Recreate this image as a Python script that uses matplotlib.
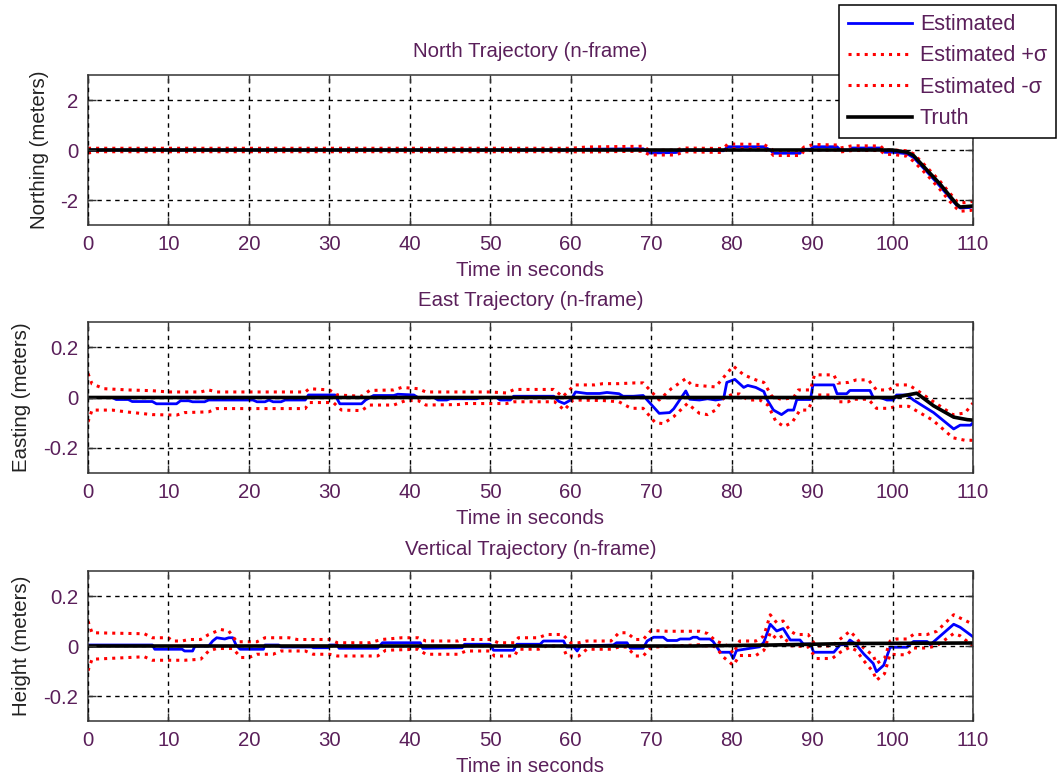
import numpy as np
import matplotlib
matplotlib.use("Agg")
import matplotlib.pyplot as plt

plt.rcParams['font.family'] = ['Liberation Sans', 'DejaVu Sans']

# ---------------- data (time [s], value) ----------------
north_est = [(0, 0), (60, 0), (62, 0.03), (69, 0.05), (69.8, -0.12), (73.1, -0.1), (74, 0), (79, -0.03),
             (79.5, 0.13), (84, 0.13), (84.8, 0), (85.2, -0.13), (88.5, -0.13), (88.9, 0.03), (89.8, 0.03),
             (90.2, 0.13), (93.1, 0.13), (93.5, 0), (94.7, 0), (95, 0.08), (98.5, 0.08), (99, -0.09),
             (100.1, -0.09), (101.8, -0.15), (102.6, -0.3), (104.3, -0.88), (105.9, -1.45), (107.1, -1.9),
             (108, -2.22), (108.4, -2.32), (109.6, -2.3), (110, -2.25)]
north_upper = [(0, 0.07), (60, 0.07), (62, 0.12), (69, 0.15), (69.8, -0.02), (73.1, 0.0), (74, 0.08), (79, 0.06),
               (79.5, 0.24), (84, 0.22), (84.8, 0.08), (85.2, -0.03), (88.5, -0.03), (89, 0.12), (90.2, 0.22),
               (93.1, 0.2), (93.5, 0.08), (95, 0.17), (98.5, 0.16), (99, 0.0), (100.1, 0.0), (101.8, -0.03),
               (102.6, -0.15), (104.3, -0.7), (105.9, -1.25), (107.1, -1.72), (108, -2.05), (108.4, -2.12),
               (109.6, -2.08), (110, -2.05)]
north_lower = [(0, -0.12), (1, -0.07), (60, -0.07), (62, -0.08), (69, -0.05), (69.8, -0.2), (73.1, -0.2),
               (74, -0.07), (79, -0.1), (79.5, 0.05), (84, 0.05), (84.8, -0.08), (85.2, -0.22), (88.5, -0.22),
               (89, -0.05), (90.2, 0.0), (93.1, 0.0), (93.5, -0.08), (95, -0.02), (98.5, -0.02), (99, -0.17),
               (100.1, -0.18), (101.8, -0.25), (102.6, -0.45), (104.3, -1.0), (105.9, -1.58), (107.1, -2.05),
               (108, -2.35), (108.4, -2.45), (109.6, -2.42), (110, -2.4)]
north_truth = [(0, 0), (100, 0), (101.8, -0.09), (102.6, -0.22), (104.3, -0.81), (105.9, -1.36),
               (107.1, -1.83), (108, -2.18), (108.4, -2.28), (109.6, -2.25), (110, -2.24)]

east_est = [(0, 0), (3, 0), (3.5, -0.008), (5, -0.008), (5.5, -0.016), (8, -0.016), (8.5, -0.025), (11, -0.025),
            (11.5, -0.013), (12.5, -0.013), (13, -0.017), (14.5, -0.017), (15, -0.01), (20.5, -0.01),
            (21, -0.017), (22, -0.017), (22.5, -0.01), (23, -0.017), (24, -0.017), (24.5, -0.01), (27, -0.01),
            (27.4, 0.01), (30.7, 0.01), (31.3, -0.025), (34, -0.025), (34.5, -0.01), (35.5, 0.008), (38, 0.008),
            (38.5, 0.013), (40.5, 0.01), (41, 0), (43, 0), (43.5, -0.01), (44.6, -0.01), (45, -0.005),
            (48.3, -0.005), (48.8, 0), (50.8, 0), (51.2, -0.01), (52.5, -0.01), (52.9, 0.005), (57.9, 0.005),
            (58.5, -0.015), (59.2, -0.024), (60, -0.01), (60.6, 0.022), (62, 0.016), (63.6, 0.016),
            (64.5, 0.02), (66, 0.015), (66.5, 0.005), (67.8, 0.005), (69, 0.008), (71, -0.063), (72.3, -0.06),
            (72.8, -0.045), (74.3, 0.026), (74.8, -0.007), (76, -0.01), (77, -0.005), (78, -0.01), (79, -0.005),
            (79.4, 0.06), (80.4, 0.072), (81.5, 0.04), (82, 0.048), (83, 0.04), (84, 0.024), (84.4, -0.008),
            (85.2, -0.05), (86.2, -0.068), (87, -0.05), (87.7, -0.05), (88.1, -0.008), (89.8, -0.008),
            (90.1, 0.05), (92.7, 0.05), (93.1, 0.015), (94.3, 0.015), (94.7, 0.028), (97.2, 0.028), (97.6, 0.0),
            (98.5, 0.0), (99.3, -0.01), (100.1, -0.01), (100.5, 0.01), (101.8, 0.01), (102.6, -0.01),
            (105.1, -0.06), (107.6, -0.125), (108.4, -0.11), (109.7, -0.11), (110, -0.1)]
east_upper = [(0, 0.095), (0.5, 0.054), (2, 0.035), (5, 0.03), (8, 0.027), (10, 0.022), (14, 0.022), (15, 0.03),
              (16, 0.022), (27, 0.022), (27.5, 0.035), (30, 0.03), (31, 0.01), (34, 0.005), (35, 0.028),
              (38, 0.03), (39, 0.04), (41, 0.035), (42, 0.022), (50, 0.022), (52, 0.018), (53, 0.032),
              (57.9, 0.032), (59, 0.003), (60.5, 0.05), (63, 0.05), (64, 0.055), (66, 0.055), (68, 0.058),
              (69, 0.058), (71, -0.01), (72.5, 0.035), (74.3, 0.075), (75, 0.05), (78, 0.042), (79, 0.08),
              (80.2, 0.125), (81.5, 0.09), (83, 0.07), (84, 0.06), (85, 0.005), (86.2, -0.008), (87.7, 0.0),
              (88.3, 0.03), (89.8, 0.03), (90.3, 0.09), (92.7, 0.09), (93.2, 0.057), (94.5, 0.06), (95.5, 0.07),
              (97, 0.07), (98, 0.03), (99.5, 0.03), (100.5, 0.05), (102, 0.05), (103, 0.03), (105, -0.015),
              (107.5, -0.068), (109, -0.062), (110, -0.022)]
east_lower = [(0, -0.097), (0.5, -0.05), (3, -0.05), (5, -0.058), (8, -0.068), (11, -0.07), (12, -0.06),
              (15, -0.057), (16, -0.044), (27, -0.044), (27.5, -0.02), (30.5, -0.02), (31.5, -0.05),
              (34, -0.052), (35, -0.03), (38, -0.03), (39.5, -0.012), (41, -0.012), (42, -0.03), (46, -0.028),
              (47, -0.024), (52, -0.024), (53, -0.017), (58, -0.017), (59.2, -0.05), (60.3, -0.01),
              (64, -0.012), (66, -0.017), (67.5, -0.043), (69, -0.043), (70.5, -0.1), (71.5, -0.104),
              (72.8, -0.076), (74.5, -0.024), (76, -0.063), (77, -0.068), (78, -0.05), (79, -0.002),
              (80.2, 0.014), (81, 0.014), (82, -0.01), (83.5, -0.01), (84.5, -0.03), (85.5, -0.095),
              (86.5, -0.115), (87.5, -0.1), (88.5, -0.05), (89.5, -0.05), (90.2, 0.0), (90.5, 0.01),
              (92.5, 0.01), (93.2, -0.017), (94.5, -0.017), (95, -0.007), (97, -0.007), (98, -0.043),
              (99.5, -0.043), (100.5, -0.035), (102, -0.035), (105, -0.09), (107.5, -0.16), (109, -0.17),
              (110, -0.17)]
east_truth = [(0, 0), (100, 0), (101, 0.005), (103, 0.017), (105.1, -0.033), (107.6, -0.078),
              (109.3, -0.088), (110, -0.09)]

vert_est = [(0, 0.004), (8, 0.004), (8.3, -0.013), (11.7, -0.013), (12, -0.02), (13, -0.02), (13.3, 0), (15, 0),
            (15.5, 0.02), (16, 0.033), (17, 0.028), (17.5, 0.033), (18, 0.033), (18.4, 0.004), (18.9, -0.013),
            (21.8, -0.013), (22, 0.004), (23.7, 0.004), (24, -0.004), (27.8, -0.004), (28, -0.007),
            (29.9, -0.007), (30, 0.004), (31, 0.004), (31.2, -0.009), (36, -0.009), (36.6, 0.013),
            (41.3, 0.013), (41.6, -0.009), (46.5, -0.007), (46.8, 0.007), (50, 0.007), (50.4, -0.017),
            (52.9, -0.017), (53.3, 0.007), (56.2, 0.007), (56.6, 0.02), (59.1, 0.02), (59.5, -0.004),
            (60.4, -0.004), (60.8, -0.02), (61.2, 0.0), (65.3, 0.004), (65.7, 0.013), (67, 0.013),
            (67.4, -0.009), (69, -0.009), (69.5, 0.02), (70.3, 0.035), (71.5, 0.035), (72, 0.022),
            (73.2, 0.022), (73.6, 0.028), (74.8, 0.028), (75.2, 0.035), (75.7, 0.035), (76, 0.028),
            (77.3, 0.028), (77.7, 0.018), (78.6, -0.025), (79.8, -0.025), (80.2, -0.05), (80.6, -0.018),
            (83.5, -0.003), (84, 0.015), (84.8, 0.087), (85.6, 0.06), (86.4, 0.07), (87.3, 0.024),
            (88.5, 0.024), (88.9, 0.008), (89.8, 0.008), (90.2, -0.025), (92.7, -0.025), (93.5, 0.005),
            (94.3, 0.005), (94.7, 0.024), (95.5, 0.005), (96.4, -0.031), (97.6, -0.07), (98, -0.103),
            (98.9, -0.077), (99.7, -0.005), (101.8, -0.005), (102.6, 0.018), (104.3, 0.018), (104.7, 0.005),
            (105.5, 0.028), (107.6, 0.087), (108.4, 0.075), (110, 0.037)]
vert_upper = [(0, 0.099), (0.5, 0.053), (7, 0.049), (8, 0.033), (10, 0.033), (10.5, 0.02), (11.7, 0.02),
              (12.5, 0.026), (14, 0.026), (15, 0.046), (16.5, 0.066), (17.5, 0.06), (18.5, 0.017), (21, 0.017),
              (22, 0.033), (25, 0.033), (26, 0.026), (30, 0.026), (31, 0.013), (35, 0.013), (36.5, 0.026),
              (39, 0.033), (41, 0.033), (42, 0.02), (46, 0.02), (46.5, 0.026), (50, 0.026), (51, 0.013),
              (53, 0.013), (53.5, 0.033), (56, 0.033), (57, 0.046), (59, 0.046), (60, 0.013), (61, 0.013),
              (62, 0.02), (65, 0.02), (66, 0.053), (67, 0.053), (68, 0.026), (69, 0.026), (70, 0.062),
              (72, 0.059), (76, 0.059), (77, 0.05), (78, 0.021), (79.5, 0.001), (80.2, -0.03), (81, 0.02),
              (83, 0.02), (84, 0.04), (84.8, 0.125), (85.6, 0.093), (86.4, 0.1), (87.3, 0.06), (88, 0.046),
              (89.5, 0.046), (90.5, 0.0), (92.5, 0.0), (93.5, 0.028), (94.7, 0.059), (95.5, 0.033),
              (96.4, -0.008), (97.6, -0.038), (98, -0.07), (99, -0.05), (99.7, 0.02), (100.5, 0.028),
              (101.8, 0.028), (102.6, 0.046), (104.3, 0.046), (105.5, 0.059), (107.6, 0.125), (108.4, 0.112),
              (110, 0.087)]
vert_lower = [(0, -0.099), (0.5, -0.053), (7, -0.043), (8, -0.057), (12, -0.057), (14, -0.053), (15, -0.02),
              (16, -0.01), (18, -0.01), (19, -0.046), (20, -0.046), (21, -0.033), (23, -0.033), (24, -0.02),
              (27, -0.02), (28, -0.033), (30, -0.033), (31, -0.04), (36, -0.04), (37, -0.017), (41, -0.013),
              (42, -0.033), (46, -0.033), (47, -0.02), (50, -0.02), (50.5, -0.04), (53, -0.04), (53.5, -0.013),
              (56, -0.013), (57, 0.0), (59, 0.0), (59.5, -0.04), (61, -0.04), (62, -0.013), (65, -0.013),
              (66, -0.004), (67, -0.004), (68, -0.04), (69, -0.04), (70, -0.005), (76, 0.005), (77, 0.0),
              (78, -0.003), (79, -0.045), (80.2, -0.077), (81, -0.038), (83, -0.038), (84, -0.018),
              (84.8, 0.053), (85.6, 0.028), (86.4, 0.041), (87.3, 0.001), (89.5, -0.003), (90.5, -0.05),
              (92.5, -0.05), (93.5, -0.025), (94.7, -0.005), (95.5, -0.018), (96.4, -0.058), (97.6, -0.104),
              (98, -0.137), (99, -0.111), (99.7, -0.032), (100.5, -0.035), (101.8, -0.035), (102.6, -0.008),
              (104.3, -0.008), (105.5, 0.001), (107.6, 0.05), (108.4, 0.041), (110, 0.0)]
vert_truth = [(0, 0), (75, 0), (85, 0.004), (95, 0.01), (110, 0.012)]

titles = ["North Trajectory (n-frame)", "East Trajectory (n-frame)", "Vertical Trajectory (n-frame)"]
ylabels = ["Northing (meters)", "Easting (meters)", "Height (meters)"]
xlabel = "Time in seconds"
legend_labels = ["Estimated", "Estimated +\u03c3", "Estimated -\u03c3", "Truth"]
x_ticks = [0, 10, 20, 30, 40, 50, 60, 70, 80, 90, 100, 110]
y_ticks = [[-2, 0, 2], [-0.2, 0, 0.2], [-0.2, 0, 0.2]]
y_lims = [(-3, 3), (-0.3, 0.3), (-0.3, 0.3)]

# ---------------- figure ----------------
W, H = 1059, 780
fig = plt.figure(figsize=(W / 100, H / 100), dpi=100)
txt = '#5a1f5a'
ylab_col = '#222222'
FS = 14.7

# axes boxes in pixels: (left, top, right, bottom)
boxes = [(88, 75, 973, 225), (88, 322, 973, 473), (88, 571, 973, 721)]
ylabel_x = [40, 22, 22]
title_pad = [13, 11.5, 11.5]

series = [(north_est, north_upper, north_lower, north_truth),
          (east_est, east_upper, east_lower, east_truth),
          (vert_est, vert_upper, vert_lower, vert_truth)]

handles = None
for i, (l, t, r, b) in enumerate(boxes):
    ax = fig.add_axes([l / W, 1 - b / H, (r - l) / W, (b - t) / H])
    est, up, lo, tr = series[i]
    h1, = ax.plot(*zip(*est), color='#0000ff', lw=2.0)
    h2, = ax.plot(*zip(*up), color='#ff0000', lw=2.2, linestyle=':')
    h3, = ax.plot(*zip(*lo), color='#ff0000', lw=2.2, linestyle=':')
    h4, = ax.plot(*zip(*tr), color='black', lw=2.6)
    if handles is None:
        handles = [h1, h2, h3, h4]
    ax.set_xlim(0, 110)
    ax.set_ylim(*y_lims[i])
    ax.set_xticks(x_ticks)
    ax.set_yticks(y_ticks[i])
    ax.set_yticklabels([('%g' % v) for v in y_ticks[i]])
    ax.grid(True, color='black', linestyle=(0, (3.2, 3.2)), linewidth=1.0)
    ax.set_axisbelow(False)
    ax.tick_params(direction='in', top=True, right=True, length=6, width=1.0,
                   labelsize=FS, labelcolor=txt, pad=7, color='#333333')
    for sp in ax.spines.values():
        sp.set_color('#333333')
        sp.set_linewidth(1.1)
    ax.set_title(titles[i], fontsize=FS, color=txt, pad=title_pad[i])
    ax.set_xlabel(xlabel, fontsize=FS, color=txt)
    ax.xaxis.set_label_coords(0.5, -(45.0) / (b - t))
    ax.xaxis.label.set_va('center')
    ax.set_ylabel(ylabels[i], fontsize=FS, color=ylab_col)
    ax.yaxis.set_label_coords((ylabel_x[i] - l) / (r - l), 0.5)
    ax.yaxis.label.set_va('center')

leg = fig.legend(handles, legend_labels, loc='upper right',
                 bbox_to_anchor=(1056 / W, 1 - 5 / H), bbox_transform=fig.transFigure,
                 fontsize=15.5, fancybox=False, framealpha=1, edgecolor='black',
                 handlelength=3.0, labelspacing=0.48, borderpad=0.42, handletextpad=0.35,
                 borderaxespad=0)
leg.get_frame().set_linewidth(1.1)
for tx in leg.get_texts():
    tx.set_color(txt)

fig.savefig('out.png', dpi=100)
